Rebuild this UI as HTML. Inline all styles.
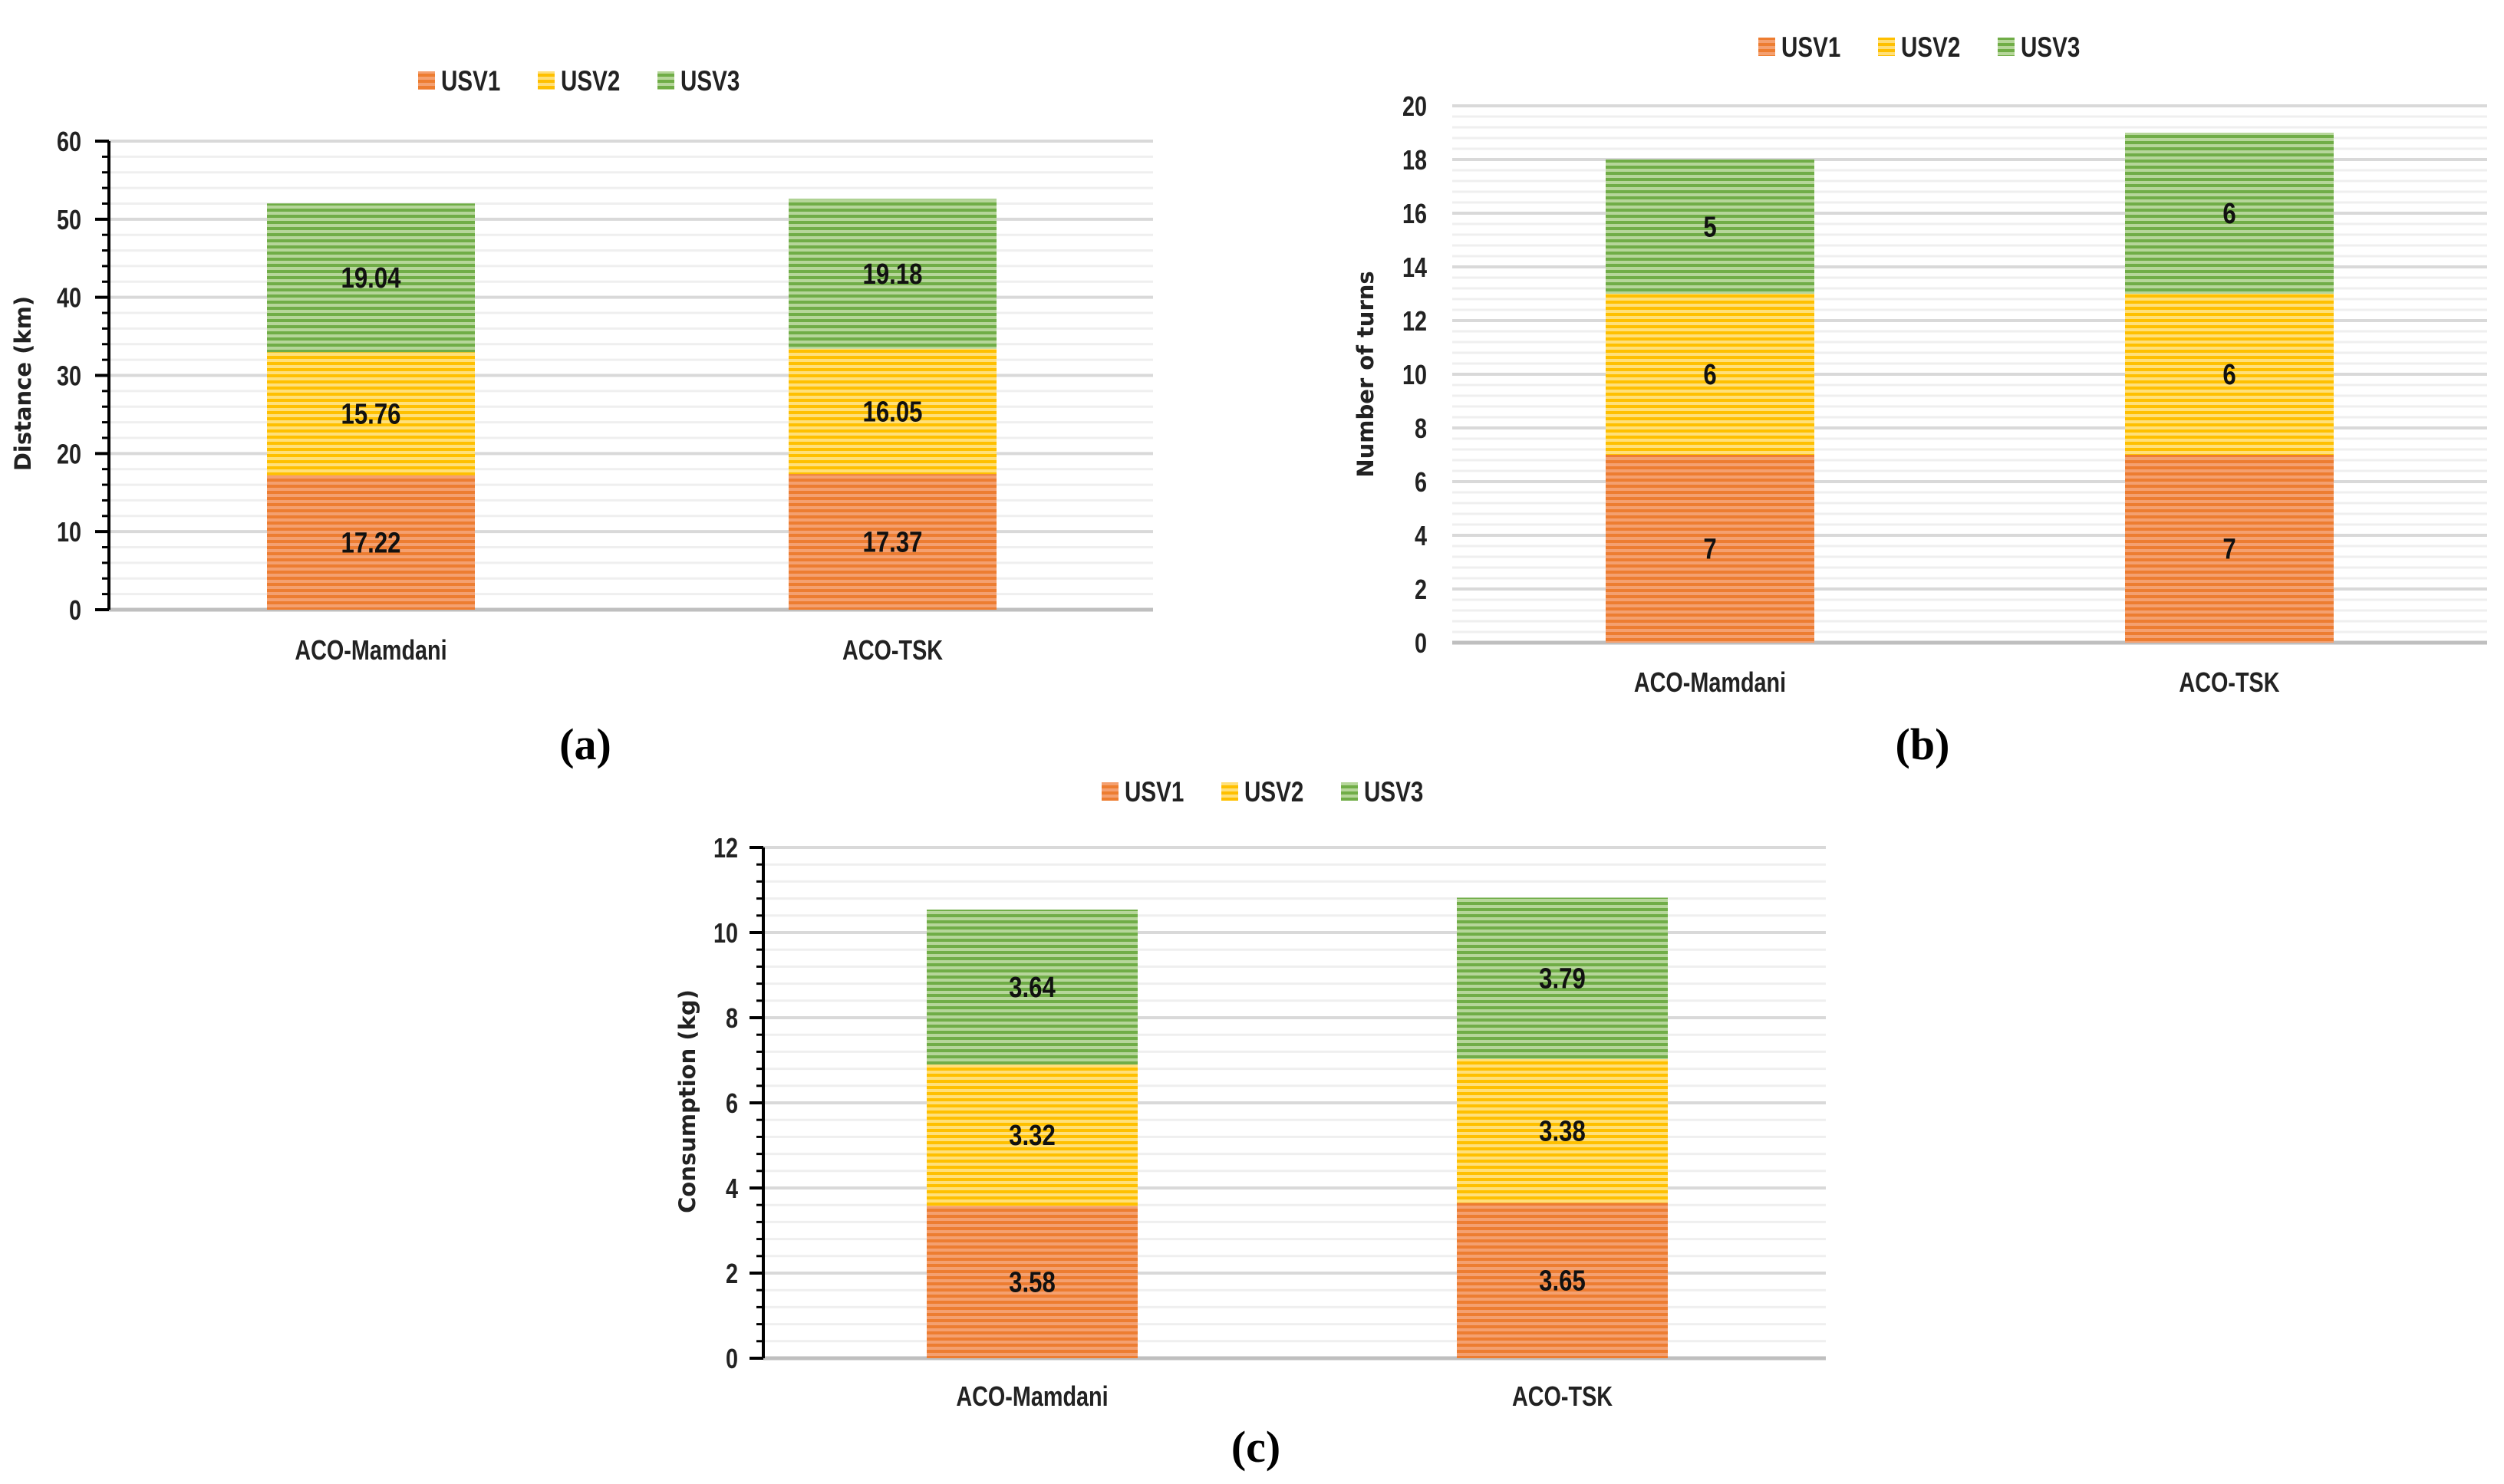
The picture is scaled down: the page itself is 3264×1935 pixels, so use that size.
<!DOCTYPE html>
<html><head><meta charset="utf-8">
<style>
html,body{margin:0;padding:0;background:#fff;}
svg{display:block;}
text{font-family:"Liberation Sans",sans-serif;}
</style></head>
<body>
<svg id="fig" width="3264" height="1935" viewBox="0 0 3264 1935" xmlns="http://www.w3.org/2000/svg">
<defs>
<pattern id="pOrange" patternUnits="userSpaceOnUse" width="8" height="8"><rect width="8" height="8" fill="#f4a070"/><rect y="0" width="8" height="4" fill="#ed7d31"/></pattern>
<pattern id="pYellow" patternUnits="userSpaceOnUse" width="8" height="8"><rect width="8" height="8" fill="#ffe07a"/><rect y="0" width="8" height="4" fill="#ffc000"/></pattern>
<pattern id="pGreen" patternUnits="userSpaceOnUse" width="8" height="8"><rect width="8" height="8" fill="#b6d69a"/><rect y="0" width="8" height="4" fill="#70ad47"/></pattern>
</defs>
</svg>
<script>
const categories = ["ACO-Mamdani", "ACO-TSK"];
const seriesNames = ["USV1", "USV2", "USV3"];
const distUSV1 = [17.22, 17.37];
const distUSV2 = [15.76, 16.05];
const distUSV3 = [19.04, 19.18];
const turnsUSV1 = [7, 7];
const turnsUSV2 = [6, 6];
const turnsUSV3 = [5, 6];
const consUSV1 = [3.58, 3.65];
const consUSV2 = [3.32, 3.38];
const consUSV3 = [3.64, 3.79];
const ticksA = [0, 10, 20, 30, 40, 50, 60];
const ticksB = [0, 2, 4, 6, 8, 10, 12, 14, 16, 18, 20];
const ticksC = [0, 2, 4, 6, 8, 10, 12];

const NS = "http://www.w3.org/2000/svg";
const svg = document.getElementById("fig");
const fills = ["url(#pOrange)", "url(#pYellow)", "url(#pGreen)"];

function mk(tag, attrs, parent) {
  const e = document.createElementNS(NS, tag);
  for (const k in attrs) e.setAttribute(k, attrs[k]);
  (parent || svg).appendChild(e);
  return e;
}

function chart(cfg) {
  const g = mk("g", {});
  
  
  const ymax = cfg.ticks[cfg.ticks.length - 1];
  const y = v => cfg.y0 - (v / ymax) * (cfg.y0 - cfg.y1);
  const x = i => cfg.barX[i];
  const step = cfg.ticks[1] - cfg.ticks[0];
  const mstep = step / cfg.minor;
  for (let v = 0; v <= ymax + 1e-9; v += mstep) {
    const l = mk("line", {x1: cfg.xl, x2: cfg.xr, y1: y(v), y2: y(v), stroke: "#efefef", "stroke-width": 3}, g);
    
    
    if (cfg.axisTicks) {
      const t = mk("line", {x1: cfg.xa - 9, x2: cfg.xa, y1: y(v), y2: y(v), stroke: "#000", "stroke-width": 3}, g);
      
      
    }
  }
  cfg.ticks.forEach(v => {
    const l = mk("line", {x1: cfg.xl, x2: cfg.xr, y1: y(v), y2: y(v), stroke: v === 0 ? "#bfbfbf" : "#d9d9d9", "stroke-width": v === 0 ? 5 : 4}, g);
    
    
    if (cfg.axisTicks) {
      const t = mk("line", {x1: cfg.xa - 18, x2: cfg.xa, y1: y(v), y2: y(v), stroke: "#000", "stroke-width": 4}, g);
      
      
    }
    const tx = mk("text", {x: cfg.xlab, y: y(v) + 13, "text-anchor": "end", "font-size": 36, "font-weight": "bold", fill: "#222", transform: `translate(${cfg.xlab},0) scale(0.8,1) translate(${-cfg.xlab},0)`}, g);
    tx.textContent = v;
    
    
  });
  if (cfg.axisTicks) {
    const a = mk("line", {x1: cfg.xa, x2: cfg.xa, y1: cfg.y1, y2: cfg.y0, stroke: "#000", "stroke-width": 4}, g);
    
    
  }
  categories.forEach((c, i) => {
    let base = 0;
    cfg.series.forEach((s, k) => {
      const v = s[i];
      const r = mk("rect", {x: x(i), width: cfg.bw, y: y(base + v), height: y(base) - y(base + v), fill: fills[k]}, g);
      
      
      const cx = x(i) + cfg.bw / 2;
      const t = mk("text", {x: cx, y: y(base + v / 2) + 13, "text-anchor": "middle", "font-size": 38, "font-weight": "bold", fill: "#111", transform: `translate(${cx},0) scale(0.82,1) translate(${-cx},0)`}, g);
      t.textContent = v;
      
      
      base += v;
    });
    const cx = x(i) + cfg.bw / 2;
    const t = mk("text", {x: cx, y: cfg.catY + 12, "text-anchor": "middle", "font-size": 36, "font-weight": "bold", fill: "#222", transform: `translate(${cx},0) scale(0.8,1) translate(${-cx},0)`}, g);
    t.textContent = c;
    
    
  });
  const yt = mk("text", {x: 0, y: 0, "text-anchor": "middle", "font-size": 29, "font-weight": "bold", fill: "#222", style: "font-family:'DejaVu Sans',sans-serif", transform: `translate(${cfg.ytX},${cfg.ytY}) rotate(-90)`}, g);
  yt.textContent = cfg.ytitle;
  
  
  let lx = cfg.legX;
  seriesNames.forEach((n, k) => {
    const sw = mk("rect", {x: lx, y: cfg.legY - 12, width: 22, height: 24, fill: fills[k]}, g);
    
    
    const t = mk("text", {x: lx + 30, y: cfg.legY + 13, "font-size": 37, "font-weight": "bold", fill: "#222", transform: `translate(${lx + 30},0) scale(0.8,1) translate(${-(lx + 30)},0)`}, g);
    t.textContent = n;
    
    
    lx += 156;
  });
  const pl = mk("text", {x: cfg.pX, y: cfg.pY + 18, "text-anchor": "middle", "font-size": 58, "font-weight": "bold", fill: "#000", style: "font-family:'Liberation Serif',serif"}, g);
  pl.textContent = cfg.panel;
  
  
}

chart({name: "chart-distance", ticks: ticksA, minor: 5, series: [distUSV1, distUSV2, distUSV3],
  y0: 795, y1: 184, xl: 142, xr: 1503, xa: 142, xlab: 106, axisTicks: true,
  barX: [348, 1028], bw: 271, catY: 848, ytitle: "Distance (km)", ytX: 40, ytY: 500,
  legX: 545, legY: 105, panel: "(a)", pX: 763, pY: 972});
chart({name: "chart-turns", ticks: ticksB, minor: 5, series: [turnsUSV1, turnsUSV2, turnsUSV3],
  y0: 838, y1: 138, xl: 1893, xr: 3242, xa: 1893, xlab: 1860, axisTicks: false,
  barX: [2093, 2770], bw: 272, catY: 890, ytitle: "Number of turns", ytX: 1790, ytY: 488,
  legX: 2292, legY: 61, panel: "(b)", pX: 2506, pY: 972});
chart({name: "chart-consumption", ticks: ticksC, minor: 5, series: [consUSV1, consUSV2, consUSV3],
  y0: 1771, y1: 1105, xl: 995, xr: 2380, xa: 995, xlab: 962, axisTicks: true,
  barX: [1208, 1899], bw: 275, catY: 1821, ytitle: "Consumption (kg)", ytX: 906, ytY: 1436,
  legX: 1436, legY: 1032, panel: "(c)", pX: 1637, pY: 1888});
</script>
</body></html>
